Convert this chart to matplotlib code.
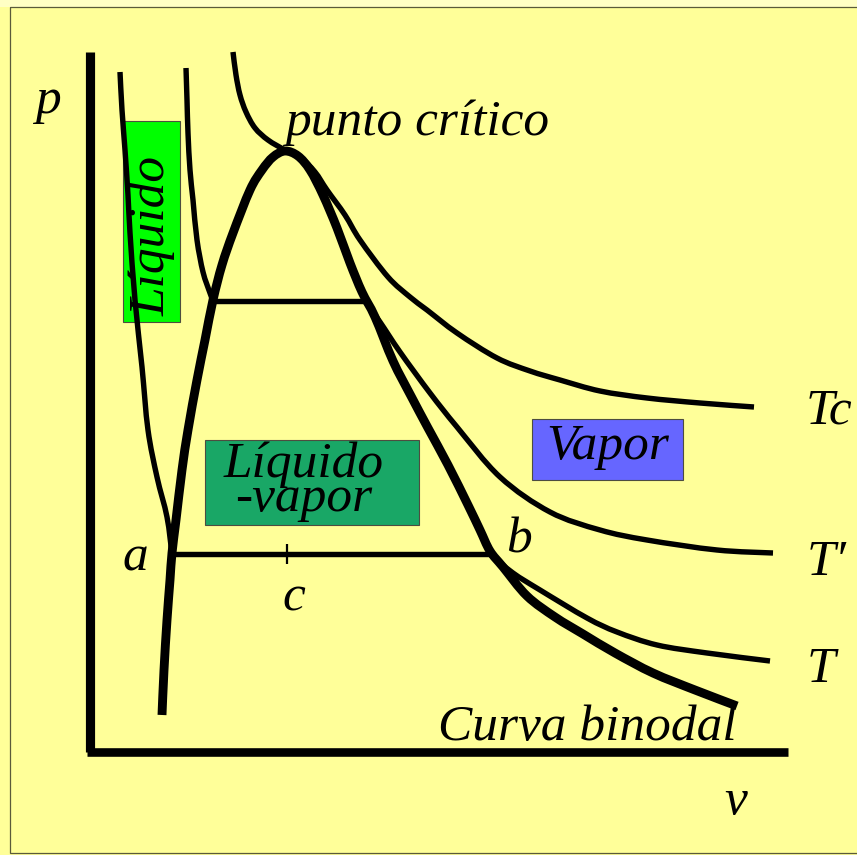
import matplotlib
matplotlib.use("Agg")
import matplotlib.pyplot as plt
from matplotlib.patches import Rectangle, PathPatch
from matplotlib.path import Path

# ---- data (in picture units: x right, y down) ----
axis_p_x = [90, 90]
axis_p_y = [52, 752]
axis_v_x = [87, 788]
axis_v_y = [752, 752]

binodal_x = [162, 164, 167, 170, 172, 176, 182, 188, 197, 205, 213, 222, 233, 250, 262, 273, 285,
             298, 310, 323, 337, 350, 362, 375, 393, 411, 428, 448, 468, 480, 490, 503, 527, 555,
             583, 615, 653, 695, 737]
binodal_y = [715, 670, 620, 580, 553, 520, 470, 430, 380, 340, 300, 265, 233, 190, 170, 157, 151,
             156, 170, 195, 228, 263, 292, 317, 361, 396, 428, 465, 505, 530, 551, 567, 596, 617,
             634, 653, 673, 690, 706]

# critical isotherm Tc
tc_x = [233, 236, 240, 246, 255, 268, 285, 300, 315, 327, 345, 360, 388, 410, 427, 457, 497, 530,
        560, 600, 647, 700, 754]
tc_y = [52, 75, 95, 112, 128, 140, 150, 157, 172, 190, 215, 240, 277, 297, 310, 333, 358, 371,
        380, 391, 398, 403, 407]

# isotherm T'  (liquid branch, plateau, vapour branch)
tp_liq_x = [186, 187, 188, 190, 193, 197, 203, 210, 213]
tp_liq_y = [68, 100, 133, 170, 200, 240, 272, 293, 301]
tp_plateau_x = [213, 365]
tp_plateau_y = [301, 301]
tp_vap_x = [365, 380, 400, 430, 457, 500, 550, 600, 647, 717, 773]
tp_vap_y = [301, 322, 352, 393, 427, 477, 512, 530, 540, 550, 553]

# isotherm T  (liquid branch, plateau a-b, vapour branch)
t_liq_x = [120, 122, 125, 128, 130, 135, 142, 148, 157, 167, 172]
t_liq_y = [72, 110, 150, 195, 233, 300, 367, 430, 477, 517, 554]
t_plateau_x = [172, 490]
t_plateau_y = [554, 554]
t_vap_x = [490, 513, 540, 587, 617, 657, 707, 770]
t_vap_y = [554, 573, 590, 618, 632, 645, 653, 661]

tick_c_x = [287, 287]
tick_c_y = [544, 564]

# region boxes: (x0, y0, x1, y1, colour)
box_liquido = (123, 121, 180, 322, "#00FF00")
box_lv = (205, 440, 419, 525, "#19A766")
box_vapor = (532, 419, 683, 480, "#6666FF")

labels = [
    # text, x, y, ha
    ("p", 35, 113, "left"),
    ("punto crítico", 285, 135, "left"),
    ("Vapor", 608, 459, "center"),
    ("Tc", 806, 423, "left"),
    ("T\u2032", 807, 575, "left"),
    ("T", 807, 682, "left"),
    ("a", 122, 570, "left"),
    ("b", 506, 552, "left"),
    ("c", 282, 610, "left"),
    ("Curva binodal", 438, 740, "left"),
    ("v", 724, 814, "left"),
]
lv_label = "Líquido\n-vapor"
liquid_label = "Líquido"


def smooth_path(xs, ys):
    """Catmull-Rom curve through the read points, as cubic Bezier path."""
    pts = list(zip(xs, ys))
    n = len(pts)
    verts = [pts[0]]
    codes = [Path.MOVETO]
    if n == 2:
        verts.append(pts[1])
        codes.append(Path.LINETO)
        return Path(verts, codes)
    for i in range(n - 1):
        p0 = pts[i - 1] if i > 0 else pts[i]
        p1 = pts[i]
        p2 = pts[i + 1]
        p3 = pts[i + 2] if i + 2 < n else pts[i + 1]
        c1 = (p1[0] + (p2[0] - p0[0]) / 6.0, p1[1] + (p2[1] - p0[1]) / 6.0)
        c2 = (p2[0] - (p3[0] - p1[0]) / 6.0, p2[1] - (p3[1] - p1[1]) / 6.0)
        verts += [c1, c2, p2]
        codes += [Path.CURVE4, Path.CURVE4, Path.CURVE4]
    return Path(verts, codes)


# ---- drawing ----
W, H = 857, 855
fig = plt.figure(figsize=(W / 100, H / 100), dpi=100, facecolor="#FFFF99")
ax = fig.add_axes([0, 0, 1, 1])
ax.set_xlim(0, W)
ax.set_ylim(H, 0)
ax.axis("off")
ax.set_facecolor("#FFFF99")

# page strip and frame
ax.add_patch(Rectangle((0, 0), W, 7, facecolor="#FFFFC4", edgecolor="none", zorder=0))
ax.add_patch(Rectangle((10, 7), W, 846, facecolor="none", edgecolor="#5a5a3a", lw=0.9, zorder=0.5))

for (x0, y0, x1, y1, col) in (box_liquido, box_lv, box_vapor):
    ax.add_patch(Rectangle((x0, y0), x1 - x0, y1 - y0, facecolor=col,
                           edgecolor="#4d4d40", lw=0.8, zorder=1))

kw = dict(color="black", solid_joinstyle="round", solid_capstyle="butt", zorder=2)
ax.plot(axis_p_x, axis_p_y, lw=6.6, **kw)
ax.plot(axis_v_x, axis_v_y, lw=6.2, **kw)
ax.plot(t_plateau_x, t_plateau_y, lw=3.9, **kw)
ax.plot(tp_plateau_x, tp_plateau_y, lw=3.9, **kw)
ax.plot(tick_c_x, tick_c_y, lw=1.6, **kw)


def curve(xs, ys, lw):
    ax.add_patch(PathPatch(smooth_path(xs, ys), facecolor="none", edgecolor="black",
                           lw=lw, capstyle="butt", joinstyle="round", zorder=2))


for xs, ys in ((t_liq_x, t_liq_y), (t_vap_x, t_vap_y), (tp_liq_x, tp_liq_y),
               (tp_vap_x, tp_vap_y), (tc_x, tc_y)):
    curve(xs, ys, 3.9)
curve(binodal_x, binodal_y, 6.4)

font = dict(family="Liberation Serif", style="italic", size=37, color="black", zorder=3)
for text, x, y, ha in labels:
    ax.text(x, y, text, ha=ha, va="baseline", **font)

ax.text(304, 482, lv_label, ha="center", va="center", multialignment="center",
        linespacing=0.66, **font)
ax.text(152, 236, liquid_label, rotation=90, ha="center", va="center", **font)

fig.savefig("out.png", dpi=100, facecolor=fig.get_facecolor())
